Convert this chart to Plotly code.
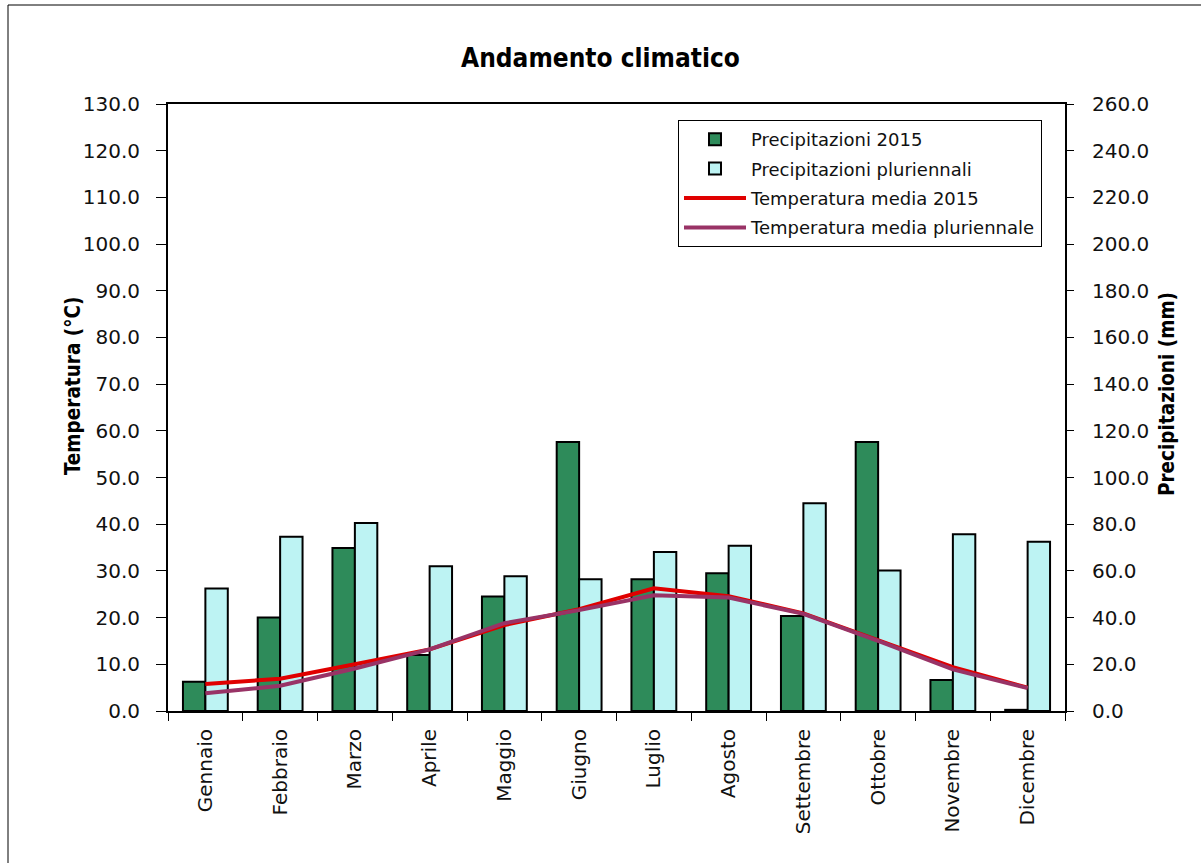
import plotly.graph_objects as go

# Monthly climate data
mesi = ["Gennaio", "Febbraio", "Marzo", "Aprile", "Maggio", "Giugno",
        "Luglio", "Agosto", "Settembre", "Ottobre", "Novembre", "Dicembre"]
precip_2015 = [12.5, 40.0, 69.8, 24.0, 49.0, 115.2, 56.4, 59.0, 40.7, 115.2, 13.3, 0.5]
precip_pluri = [52.5, 74.6, 80.5, 62.0, 57.7, 56.4, 68.1, 70.8, 89.0, 60.2, 75.7, 72.5]
temp_2015 = [5.8, 6.9, 10.0, 13.2, 18.4, 21.8, 26.3, 24.6, 20.9, 15.2, 9.4, 5.0]
temp_pluri = [3.8, 5.4, 9.1, 13.2, 18.8, 21.6, 24.8, 24.3, 20.8, 15.0, 8.9, 4.9]

temp_ticks = [i * 10 for i in range(14)]
precip_ticks = [i * 20 for i in range(14)]

FONT = "DejaVu Sans, Liberation Sans, sans-serif"
FONT_BOLD = "DejaVu Sans Condensed, DejaVu Sans, sans-serif"

# plot area in pixels
L, R, T, B = 168, 1065, 104, 711
PW, PH = R - L, B - T


def px_x(x):
    return (x - L) / PW


def px_y(y):
    return (B - y) / PH


fig = go.Figure()

# Precipitation bars (right axis, base plot)
fig.add_trace(go.Bar(
    x=mesi, y=precip_2015, name="Precipitazioni 2015", yaxis="y",
    legendgroup="p15",
    marker=dict(color="#2E8B5A", line=dict(color="black", width=2)),
))
fig.add_trace(go.Bar(
    x=mesi, y=precip_pluri, name="Precipitazioni pluriennali", yaxis="y",
    legendgroup="ppl",
    marker=dict(color="#BDF3F3", line=dict(color="black", width=2)),
))

# Temperature lines (left axis, overlaid so they sit above the bars)
fig.add_trace(go.Scatter(
    x=mesi, y=temp_2015, name="Temperatura media 2015", yaxis="y2",
    legendgroup="t15",
    mode="lines", line=dict(color="#E00000", width=4),
))
fig.add_trace(go.Scatter(
    x=mesi, y=temp_pluri, name="Temperatura media pluriennale", yaxis="y2",
    legendgroup="tpl",
    mode="lines", line=dict(color="#993366", width=4),
))

fig.update_layout(
    width=1201, height=863,
    margin=dict(l=L, r=1201 - R, t=T, b=863 - B),
    paper_bgcolor="white", plot_bgcolor="white",
    font=dict(family=FONT, size=19, color="#111111"),
    title=dict(text="<b>Andamento climatico</b>", x=0.5, xref="container",
               xanchor="center", y=1 - 58 / 863, yanchor="middle",
               font=dict(size=26, family=FONT_BOLD, color="black")),
    barmode="group", bargap=0.4, bargroupgap=0,
    showlegend=True,
    legend=dict(x=px_x(678), y=px_y(120), xanchor="left", yanchor="top",
                bordercolor="black", borderwidth=1, bgcolor="white",
                font=dict(size=18, family=FONT), tracegroupgap=3,
                itemwidth=62, traceorder="grouped"),
    xaxis=dict(
        type="category", tickson="boundaries", ticks="outside", ticklen=8,
        tickcolor="black", tickwidth=1, tickangle=-90, ticklabelstandoff=8,
        showline=True, linecolor="black", linewidth=2, mirror=True,
        showgrid=False, tickfont=dict(size=20),
    ),
    yaxis=dict(
        side="right", range=[0, 260], tickvals=precip_ticks,
        ticktext=[f"{v:.1f}" for v in precip_ticks],
        ticks="outside", ticklen=7, tickcolor="black", ticklabelstandoff=14,
        showline=True, linecolor="black", linewidth=2,
        showgrid=False, zeroline=False, tickfont=dict(size=20),
    ),
    yaxis2=dict(
        side="left", overlaying="y", range=[0, 130], tickvals=temp_ticks,
        ticktext=[f"{v:.1f}" for v in temp_ticks],
        ticks="outside", ticklen=10, tickcolor="black", ticklabelstandoff=12,
        showline=True, linecolor="black", linewidth=2,
        showgrid=False, zeroline=False, tickfont=dict(size=20),
    ),
)

# Axis titles
fig.add_annotation(text="<b>Temperatura (°C)</b>", xref="paper", yref="paper",
                   x=px_x(59), y=px_y(386), textangle=-90,
                   showarrow=False, font=dict(size=20.5, family=FONT_BOLD, color="black"))
fig.add_annotation(text="<b>Precipitazioni (mm)</b>", xref="paper", yref="paper",
                   x=px_x(1181), y=px_y(394), textangle=-90,
                   showarrow=False, font=dict(size=20.5, family=FONT_BOLD, color="black"))

# Frame lines along the top and left edge of the chart
fig.add_shape(type="line", xref="paper", yref="paper",
              x0=px_x(8), x1=px_x(1201), y0=px_y(5), y1=px_y(5),
              line=dict(color="black", width=1))
fig.add_shape(type="line", xref="paper", yref="paper",
              x0=px_x(8), x1=px_x(8), y0=px_y(5), y1=px_y(863),
              line=dict(color="black", width=1))

fig.write_html("out.html")
